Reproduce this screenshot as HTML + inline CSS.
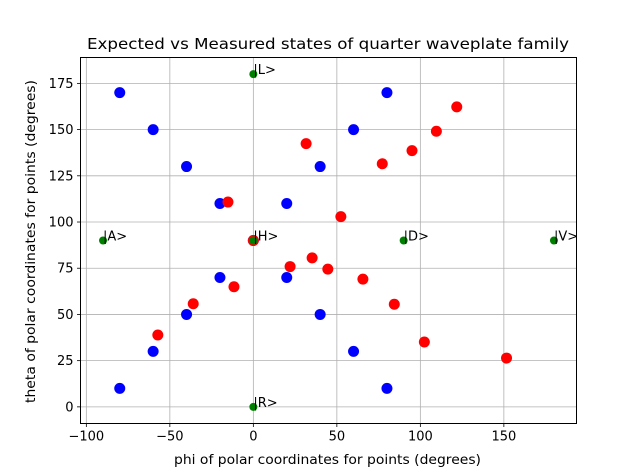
<!DOCTYPE html>
<html><head><meta charset="utf-8"><style>
html,body{margin:0;padding:0;background:#fff;}
svg{display:block;font-family:"DejaVu Sans","Liberation Sans",sans-serif;}
</style></head><body>
<svg id="chart" width="640" height="476" viewBox="0 0 640 476" xmlns="http://www.w3.org/2000/svg">
<rect width="640" height="476" fill="#fff"/>
<text x="328" y="49" font-size="15.5" text-anchor="middle" textLength="482" lengthAdjust="spacingAndGlyphs" fill="#000">Expected vs Measured states of quarter waveplate family</text>
<g id="grid"></g>
<g id="marks"></g>
<rect x="80.5" y="57.5" width="496" height="366" fill="none" stroke="#000" stroke-width="1"/>
<g id="ticks"></g>
<text x="327.5" y="464" font-size="13" text-anchor="middle" textLength="307" lengthAdjust="spacingAndGlyphs">phi of polar coordinates for points (degrees)</text>
<text transform="translate(35,241.5) rotate(-90)" font-size="13" text-anchor="middle" textLength="323" lengthAdjust="spacingAndGlyphs">theta of polar coordinates for points (degrees)</text>
</svg>
<script>
const blueX=[-80,-60,-40,-20,0,20,40,60,80,-80,-60,-40,-20,20,40,60,80];
const blueY=[170,150,130,110,90,70,50,30,10,10,30,50,70,110,130,150,170];
const redX=[121.8,109.6,31.6,95,77.2,52.4,-15.2,0,35.2,22,44.6,65.6,-11.6,-36,84.4,-57.2,102.4,151.6];
const redY=[162.3,149.1,142.4,138.6,131.5,102.9,110.8,90,80.6,75.9,74.5,69.1,65,55.8,55.5,38.9,35.1,26.4];
const greenX=[0,-90,0,90,180,0];
const greenY=[180,90,90,90,90,0];
const greenLabels=["|L>","|A>","|H>","|D>","|V>","|R>"];
const xTicks=[-100,-50,0,50,100,150];
const yTicks=[0,25,50,75,100,125,150,175];
const xMin=-103.5,xMax=193.5,yMin=-9,yMax=189;
const L=80.5,R=576.5,T=57.5,B=423.5;
function sx(v){return L+(v-xMin)/(xMax-xMin)*(R-L);}
function sy(v){return B-(v-yMin)/(yMax-yMin)*(B-T);}
const NS="http://www.w3.org/2000/svg";
function mk(tag,attrs,parent){const e=document.createElementNS(NS,tag);for(const k in attrs)e.setAttribute(k,attrs[k]);parent.appendChild(e);return e;}
const grid=document.getElementById('grid'),marks=document.getElementById('marks'),ticks=document.getElementById('ticks');
xTicks.forEach(t=>{
  const x=sx(t);
  const g=mk('line',{x1:x,x2:x,y1:T,y2:B,stroke:'#b0b0b0','stroke-width':0.8},grid);
  
  
  const tk=mk('line',{x1:x,x2:x,y1:B,y2:B+3.5,stroke:'#000','stroke-width':0.8},ticks);
  
  
  const lb=mk('text',{x:x,y:B+17,'font-size':13,'text-anchor':'middle'},ticks);
  lb.textContent=t<0?'\u2212'+(-t):String(t);
  
  
});
yTicks.forEach(t=>{
  const y=sy(t);
  const g=mk('line',{x1:L,x2:R,y1:y,y2:y,stroke:'#b0b0b0','stroke-width':0.8},grid);
  
  
  const tk=mk('line',{x1:L-3.5,x2:L,y1:y,y2:y,stroke:'#000','stroke-width':0.8},ticks);
  
  
  const lb=mk('text',{x:L-7,y:y+4.5,'font-size':13,'text-anchor':'end'},ticks);
  lb.textContent=String(t);
  
  
});
blueX.forEach((v,i)=>{
  const c=mk('circle',{cx:sx(v),cy:sy(blueY[i]),r:5.5,fill:'#0000ff'},marks);
  
  
});
redX.forEach((v,i)=>{
  const c=mk('circle',{cx:sx(v),cy:sy(redY[i]),r:5.5,fill:'#ff0000'},marks);
  
  
});
greenX.forEach((v,i)=>{
  const c=mk('circle',{cx:sx(v),cy:sy(greenY[i]),r:4,fill:'#008000'},marks);
  
  
  const t=mk('text',{x:sx(v),y:sy(greenY[i]),'font-size':13},marks);
  t.textContent=greenLabels[i];
  
  
});
</script>
</body></html>
